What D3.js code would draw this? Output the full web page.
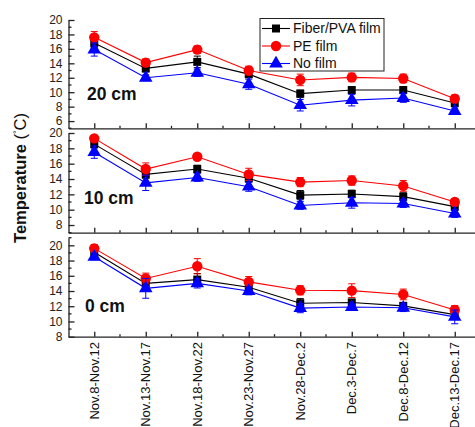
<!DOCTYPE html>
<html><head><meta charset="utf-8">
<script src="https://cdn.jsdelivr.net/npm/d3@7"></script>
<style>body{margin:0;background:#fff}svg{display:block;font-family:"Liberation Sans",Arial,sans-serif}</style>
</head><body>
<svg id="c" width="475" height="427"></svg>
<script>
const categories = ["Nov.8-Nov.12","Nov.13-Nov.17","Nov.18-Nov.22","Nov.23-Nov.27","Nov.28-Dec.2","Dec.3-Dec.7","Dec.8-Dec.12","Dec.13-Dec.17"];
const seriesNames = ["Fiber/PVA film","PE film","No film"];
const panelLabels = ["20 cm","10 cm","0 cm"];

// 20 cm
const fiber20 = [16.8,13.3,14.2,12.5,9.8,10.3,10.3,8.5];
const pe20    = [17.6,14.1,15.9,13.0,11.7,12.05,11.9,9.1];
const none20  = [15.9,12.0,12.7,11.1,8.2,8.9,9.2,7.4];
const fiber20Err = [0.6,0.5,0.8,0.5,0.5,0.4,0.4,0.5];
const pe20Err    = [0.8,0.5,0.5,0.6,0.8,0.6,0.6,0.5];
const none20Err  = [0.9,0.4,0.5,0.7,0.8,0.8,0.6,0.4];
// 10 cm
const fiber10 = [18.55,14.6,15.3,14.1,11.9,12.05,11.7,10.4];
const pe10    = [19.3,15.3,16.9,14.6,13.6,13.8,13.1,11.0];
const none10  = [17.5,13.5,14.2,13.0,10.55,10.9,10.8,9.5];
const fiber10Err = [0.5,0.5,0.5,0.5,0.6,0.5,0.5,0.5];
const pe10Err    = [0.3,0.8,0.3,0.8,0.6,0.6,0.7,0.4];
const none10Err  = [0.8,1.0,0.5,0.6,0.5,0.7,0.5,0.5];
// 0 cm
const fiber0 = [19.1,15.0,15.5,14.5,12.4,12.5,12.05,10.9];
const pe0    = [19.6,15.65,17.25,15.2,14.1,14.05,13.55,11.5];
const none0  = [18.5,14.35,15.0,14.0,11.75,11.9,11.8,10.6];
const fiber0Err = [0.7,0.7,0.8,0.6,0.6,0.4,0.4,0.6];
const pe0Err    = [0.5,0.7,1.0,0.7,0.6,0.9,0.7,0.6];
const none0Err  = [0.4,1.3,0.6,0.5,0.6,0.4,0.5,0.9];

const yDomains = [[5,20],[7,20],[8,21]];
const yTicks = [[6,8,10,12,14,16,18,20],[8,10,12,14,16,18,20],[8,10,12,14,16,18,20]];

const panels = [
  {label: panelLabels[0], dom: yDomains[0], ticks: yTicks[0], top: 20, bottom: 128.3,
   series: [[fiber20,fiber20Err],[pe20,pe20Err],[none20,none20Err]]},
  {label: panelLabels[1], dom: yDomains[1], ticks: yTicks[1], top: 133, bottom: 232.7,
   series: [[fiber10,fiber10Err],[pe10,pe10Err],[none10,none10Err]]},
  {label: panelLabels[2], dom: yDomains[2], ticks: yTicks[2], top: 237.7, bottom: 336.7,
   series: [[fiber0,fiber0Err],[pe0,pe0Err],[none0,none0Err]]}
];
const colors = ["#000000","#ff0000","#0000ff"];
const shapes = [d3.symbolSquare, d3.symbolCircle, d3.symbolTriangle];
const sizes = [64, 85, 80];
const labelPos = [[87,100],[84,204],[85,312]];

const svg = d3.select("#c");
const x = d3.scaleLinear().domain([-0.5, 7.5]).range([68.5, 480.5]);
const axisColor = "#222";

panels.forEach((p, pi) => {
  const y = d3.scaleLinear().domain(p.dom).range([p.bottom, p.top]);
  const g = svg.append("g");
  // y axis
  const ya = g.append("g").attr("transform", `translate(${x.range()[0]},0)`)
    .call(d3.axisLeft(y).tickValues(p.ticks).tickSizeInner(-6).tickSizeOuter(0).tickPadding(6).tickFormat(d3.format("d")));
  ya.selectAll("path,line").attr("stroke", axisColor).attr("stroke-width", 1.3);
  ya.selectAll("text").attr("font-size", 12).attr("fill", "#222").attr("font-family", "Liberation Sans, Arial, sans-serif");
  const minors = d3.range(p.dom[0], p.dom[1] + 0.01, 1).filter(v => p.ticks.indexOf(v) < 0);
  g.selectAll(".ymin").data(minors).enter().append("line")
    .attr("x1", x.range()[0]).attr("x2", x.range()[0] + 3)
    .attr("y1", d => y(d)).attr("y2", d => y(d))
    .attr("stroke", axisColor).attr("stroke-width", 1.3);
  // x axis (bottom of panel)
  const xa = g.append("g").attr("transform", `translate(0,${p.bottom})`)
    .call(d3.axisBottom(x).tickValues(d3.range(0, 8)).tickSizeInner(-5).tickSizeOuter(0).tickFormat(""));
  xa.selectAll("path,line").attr("stroke", axisColor).attr("stroke-width", 1.3);
  g.selectAll(".xmin").data(d3.range(0.5, 8, 1)).enter().append("line")
    .attr("x1", d => x(d)).attr("x2", d => x(d))
    .attr("y1", p.bottom).attr("y2", p.bottom - 2.5)
    .attr("stroke", axisColor).attr("stroke-width", 1.3);

  // series
  p.series.forEach((s, si) => {
    const vals = s[0], errs = s[1];
    const pts = vals.map((v, i) => ({i, v, e: errs[i]}));
    const line = d3.line().x(d => x(d.i)).y(d => y(d.v));
    g.append("path").datum(pts).attr("d", line).attr("fill", "none")
      .attr("stroke", colors[si]).attr("stroke-width", 1.1);
    const eb = g.append("g").attr("stroke", colors[si]).attr("stroke-width", 1);
    pts.forEach(d => {
      eb.append("line").attr("x1", x(d.i)).attr("x2", x(d.i)).attr("y1", y(d.v - d.e)).attr("y2", y(d.v + d.e));
      eb.append("line").attr("x1", x(d.i) - 3.5).attr("x2", x(d.i) + 3.5).attr("y1", y(d.v - d.e)).attr("y2", y(d.v - d.e));
      eb.append("line").attr("x1", x(d.i) - 3.5).attr("x2", x(d.i) + 3.5).attr("y1", y(d.v + d.e)).attr("y2", y(d.v + d.e));
    });
    g.selectAll(null).data(pts).enter().append("path")
      .attr("d", d3.symbol().type(shapes[si]).size(sizes[si]))
      .attr("transform", d => `translate(${x(d.i)},${y(d.v)})`)
      .attr("fill", colors[si]);
  });

  g.append("text").attr("x", labelPos[pi][0]).attr("y", labelPos[pi][1])
    .attr("font-size", 17.5).attr("font-weight", "bold").attr("fill", "#111").text(p.label);
});

// x tick labels
svg.selectAll(".xl").data(categories).enter().append("text")
  .attr("transform", (d, i) => `translate(${x(i)},342) rotate(-90)`)
  .attr("text-anchor", "end").attr("dy", "0.35em")
  .attr("font-size", 13).attr("fill", "#111").text(d => d);

// y title
const yt = svg.append("text").attr("transform", "translate(26,178) rotate(-90)")
  .attr("text-anchor", "middle").attr("font-size", 16.5).attr("fill", "#111");
yt.append("tspan").attr("font-weight", "bold").text("Temperature ");
yt.append("tspan").text("(");
yt.append("tspan").attr("font-size", 9).attr("dy", -6).text("°");
yt.append("tspan").attr("dy", 6).text("C)");

// legend
const lg = svg.append("g");
lg.append("rect").attr("x", 260).attr("y", 18.5).attr("width", 124).attr("height", 52.5)
  .attr("fill", "#fff").attr("stroke", "#222").attr("stroke-width", 1);
seriesNames.forEach((n, i) => {
  const yy = 28.5 + i * 17.5;
  lg.append("line").attr("x1", 262).attr("x2", 290).attr("y1", yy).attr("y2", yy)
    .attr("stroke", colors[i]).attr("stroke-width", 1.1);
  lg.append("path").attr("d", d3.symbol().type(shapes[i]).size(sizes[i]))
    .attr("transform", `translate(276,${yy})`).attr("fill", colors[i]);
  lg.append("text").attr("x", 293).attr("y", yy).attr("dy", "0.35em")
    .attr("font-size", 14).attr("fill", "#111").text(n);
});
</script>
</body></html>
